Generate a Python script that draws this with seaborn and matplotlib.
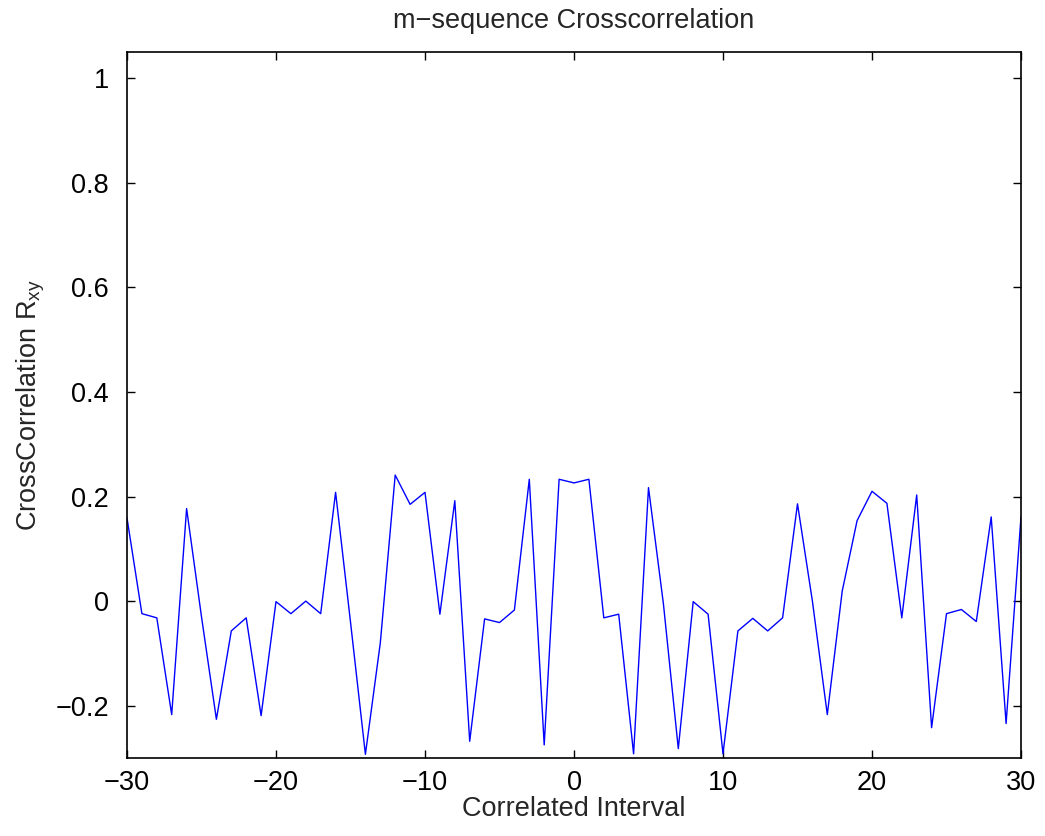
import numpy as np
import pandas as pd
import matplotlib
matplotlib.use("Agg")
import matplotlib.pyplot as plt
import seaborn as sns

lags = list(range(-30, 31))
rxy = [0.159, -0.024, -0.032, -0.217, 0.177, -0.030, -0.226, -0.057, -0.032, -0.219,
       -0.001, -0.024, 0.000, -0.024, 0.208, -0.040, -0.293, -0.080, 0.241, 0.185,
       0.208, -0.025, 0.192, -0.268, -0.034, -0.041, -0.017, 0.233, -0.275, 0.233,
       0.226, 0.233, -0.032, -0.025, -0.292, 0.217, -0.005, -0.282, -0.001, -0.025,
       -0.292, -0.057, -0.033, -0.057, -0.032, 0.186, 0.000, -0.217, 0.019, 0.154,
       0.210, 0.187, -0.032, 0.203, -0.242, -0.024, -0.016, -0.039, 0.161, -0.234,
       0.161]
xticks = [-30, -20, -10, 0, 10, 20, 30]
yticks = [-0.2, 0, 0.2, 0.4, 0.6, 0.8, 1]
ytick_labels = ["\u22120.2", "0", "0.2", "0.4", "0.6", "0.8", "1"]
xtick_labels = ["\u221230", "\u221220", "\u221210", "0", "10", "20", "30"]

sns.set_style("white")
plt.rcParams['font.family'] = ['Liberation Sans', 'DejaVu Sans']
fs = 19.5

df = pd.DataFrame({"lag": lags, "rxy": rxy})
fig = plt.figure(figsize=(10.45, 8.36), dpi=100)
ax = fig.add_axes([127/1045, 1 - 758/836, (1021 - 127)/1045, (758 - 52)/836])
sns.lineplot(data=df, x="lag", y="rxy", ax=ax, color=(0, 0, 1), linewidth=1.0)

ax.set_xlim(-30, 30)
ax.set_ylim(-0.3, 1.05)
ax.set_xticks(xticks)
ax.set_xticklabels(xtick_labels)
ax.set_yticks(yticks)
ax.set_yticklabels(ytick_labels)
ax.tick_params(direction="in", length=6, width=1, labelsize=fs, top=True, right=True,
               bottom=True, left=True, colors="black")
ax.tick_params(axis="y", pad=13)
ax.tick_params(axis="x", pad=9)
for s in ax.spines.values():
    s.set_visible(True)
    s.set_color("black")
    s.set_linewidth(1.2)
ax.set_xlabel("Correlated Interval", fontsize=fs, labelpad=0)
ax.set_ylabel("CrossCorrelation R$_{\\mathregular{xy}}$", fontsize=fs, labelpad=6)
ax.set_title("m\u2212sequence Crosscorrelation", fontsize=fs, pad=17)
fig.savefig("out.png", dpi=100)
